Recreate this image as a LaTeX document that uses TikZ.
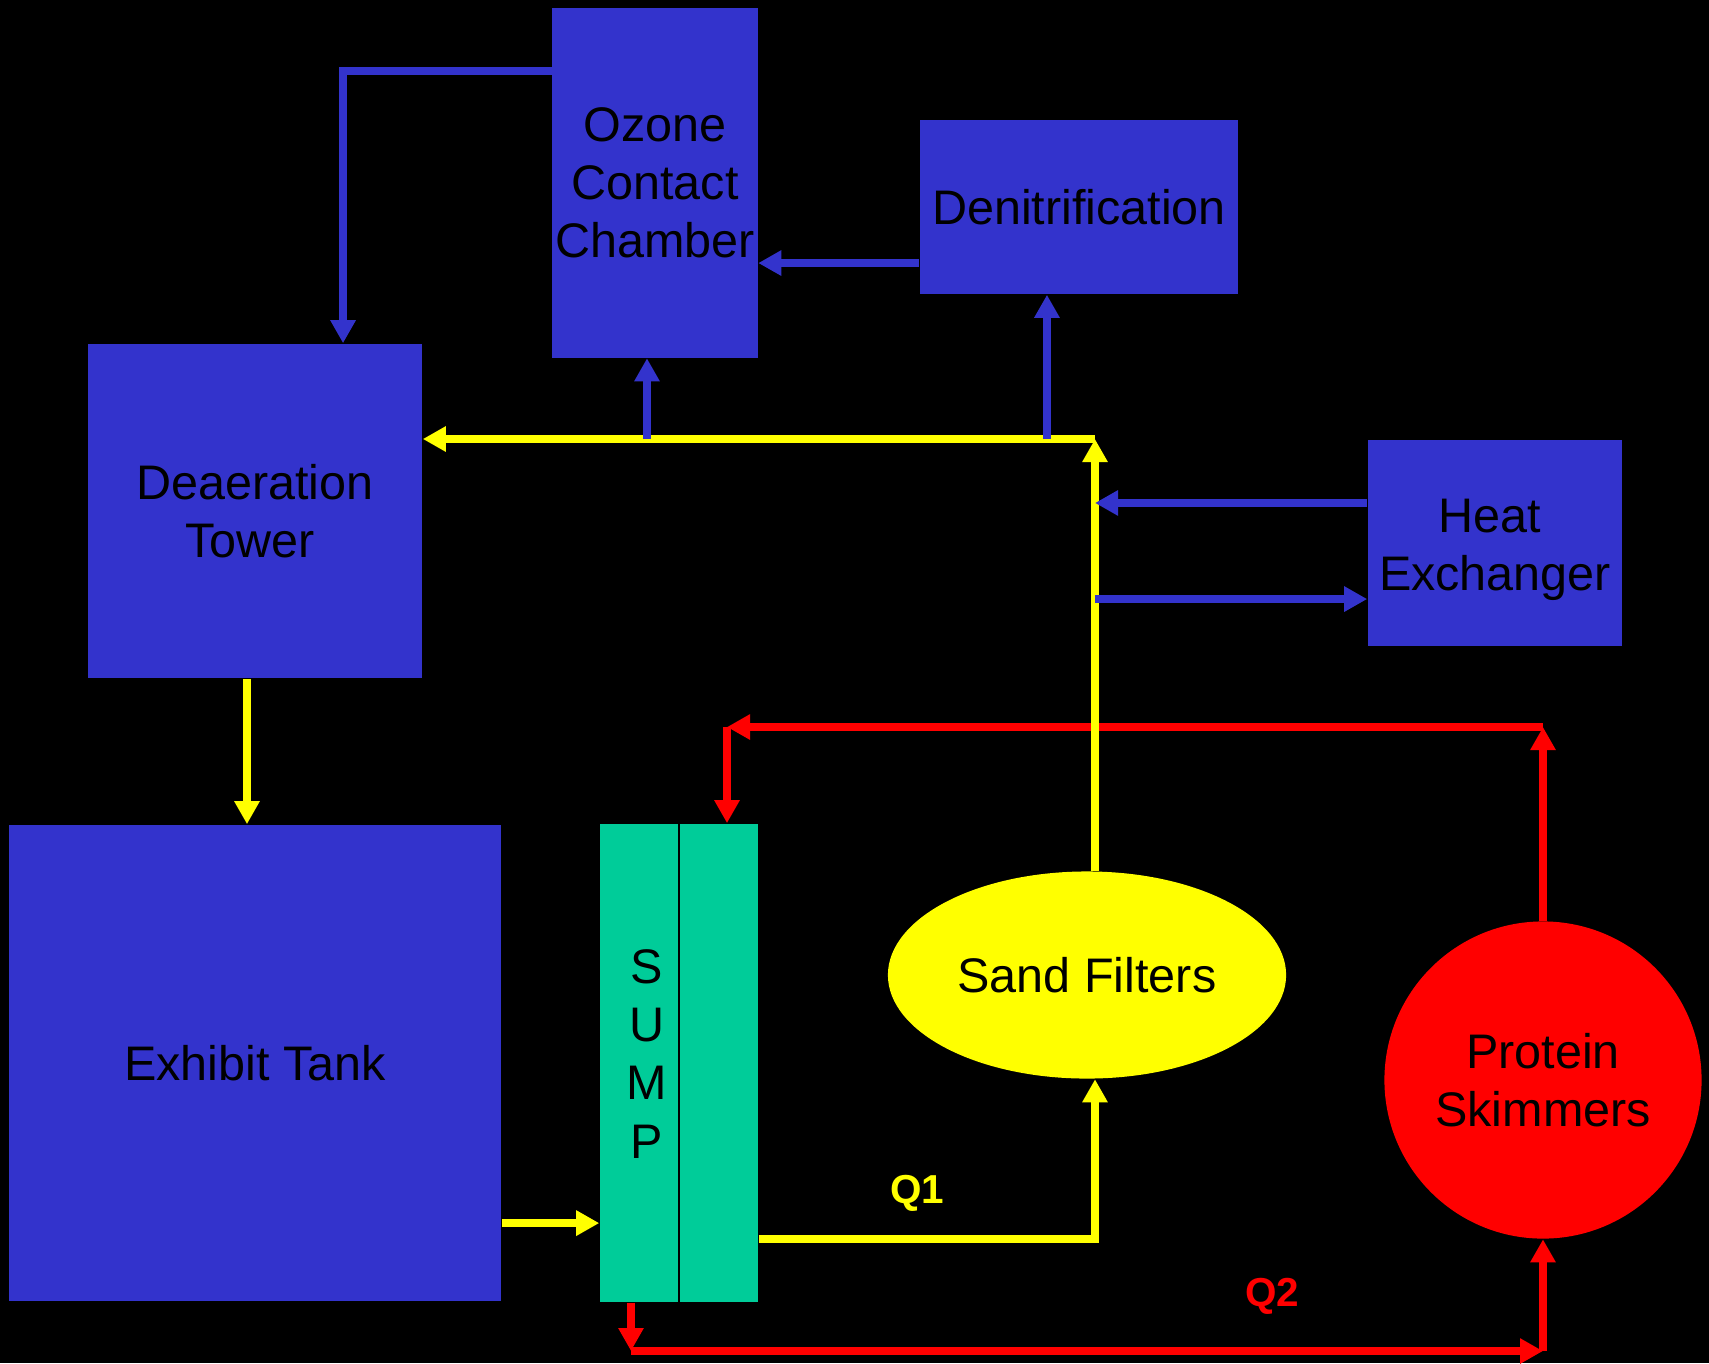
\documentclass[tikz,border=0pt]{standalone}
\usepackage{fontspec}
\setmainfont{Liberation Sans}
\usepackage{tikz}
\usetikzlibrary{arrows.meta,shapes.geometric}
\definecolor{boxblue}{HTML}{3333CC}
\definecolor{sumpgreen}{HTML}{00CC99}
\definecolor{flowyellow}{RGB}{255,255,0}
\definecolor{flowred}{RGB}{255,0,0}
\tikzstyle{labeltext}=[font=\fontsize{13.8}{16.5}\selectfont,align=center]
\tikzstyle{bluebox}=[labeltext,rectangle,fill=boxblue,inner sep=0pt]
\tikzstyle{flowpipe}=[line width=0.08cm,-{Triangle[length=0.23cm,width=0.24cm]}]
\tikzstyle{bluepipe}=[flowpipe,color=boxblue]
\tikzstyle{yellowpipe}=[flowpipe,color=flowyellow]
\tikzstyle{redpipe}=[flowpipe,color=flowred]
\tikzstyle{qlabel}=[font=\bfseries\fontsize{11.5}{14}\selectfont]
\begin{document}
\begin{tikzpicture}[x=0.01cm,y=-0.01cm]
\useasboundingbox (0,0) rectangle (1709,1363);
\fill[black] (0,0) rectangle (1709,1363);
%treatment units
\node[bluebox,minimum width=2.05cm,minimum height=3.49cm] (ozone) at (655,183) {Ozone\\Contact\\Chamber};
\node[bluebox,minimum width=3.18cm,minimum height=1.74cm] (denit) at (1079,207) {Denitrification};
\node[bluebox,minimum width=3.34cm,minimum height=3.34cm] (deaer) at (255,511) {Deaeration\\Tower\kern3pt};
\node[bluebox,minimum width=2.54cm,minimum height=2.06cm] (hx) at (1495,543) {};
\node[labeltext] (hxtxt) at (1495,550) {Heat\kern3pt\\Exchanger};
\node[bluebox,minimum width=4.92cm,minimum height=4.76cm] (tank) at (255,1063) {Exhibit Tank};
%sump
\node[rectangle,fill=sumpgreen,minimum width=1.58cm,minimum height=4.78cm] (sump) at (679,1063) {};
\draw[black,line width=0.02cm] (sump.north) -- (sump.south);
\node[labeltext] (sumptxt) at (647,1054) {S\\U\\M\\P};
%filters
\node[labeltext,ellipse,fill=flowyellow,inner sep=0pt,minimum width=3.98cm,minimum height=2.07cm] (sand) at (1087,975) {Sand Filters};
\node[labeltext,circle,fill=flowred,inner sep=0pt,minimum size=3.17cm] (skim) at (1543,1080) {Protein\\Skimmers};
%corners
\coordinate (ytop) at (1095,439);
\coordinate (rtop) at (1543,727);
\coordinate (rleft) at (727,727);
\coordinate (rlow) at (631,1351);
%skimmer loop
\draw[redpipe] (skim.north) -- (rtop);
\draw[redpipe] (rtop) -- (rleft);
\draw[redpipe] (rleft) -- (rleft |- sump.north);
\draw[redpipe] (rlow |- sump.south) -- (rlow);
\draw[redpipe] (rlow) -- (rlow -| skim.south);
\draw[redpipe] (rlow -| skim.south) -- (skim.south);
%main loop
\draw[yellowpipe] ([xshift=-0.08cm]deaer.south) -- ([xshift=-0.08cm]tank.north);
\draw[yellowpipe] ([yshift=-1.6cm]tank.east) -- ([yshift=-1.6cm]sump.west);
\draw[yellowpipe] ([yshift=-1.76cm]sump.east) -| (ytop |- sand.south);
\draw[yellowpipe] (ytop |- sand.north) -- (ytop);
\draw[yellowpipe] (ytop) -- (ytop -| deaer.east);
%side streams
\coordinate (ozin) at ([xshift=-0.08cm]ozone.south);
\coordinate (denin) at ([xshift=-0.32cm]denit.south);
\coordinate (denout) at ([yshift=-0.56cm]denit.west);
\coordinate (ozout) at ([yshift=1.12cm]ozone.west);
\coordinate (dein) at ([xshift=0.88cm]deaer.north);
\coordinate (hxout) at ([yshift=0.4cm]hx.west);
\coordinate (hxin) at ([yshift=-0.56cm]hx.west);
\draw[bluepipe] (ozin |- ytop) -- (ozin);
\draw[bluepipe] (denin |- ytop) -- (denin);
\draw[bluepipe] (denout) -- (denout -| ozone.east);
\draw[bluepipe] (ozout) -| (dein);
\draw[bluepipe] (hxout) -- (hxout -| ytop);
\draw[bluepipe] (hxin -| ytop) -- (hxin);
%flow labels
\node[qlabel,text=flowyellow] (qone) at (917,1193) {Q1};
\node[qlabel,text=flowred] (qtwo) at (1272,1296) {Q2};
\end{tikzpicture}
\end{document}
